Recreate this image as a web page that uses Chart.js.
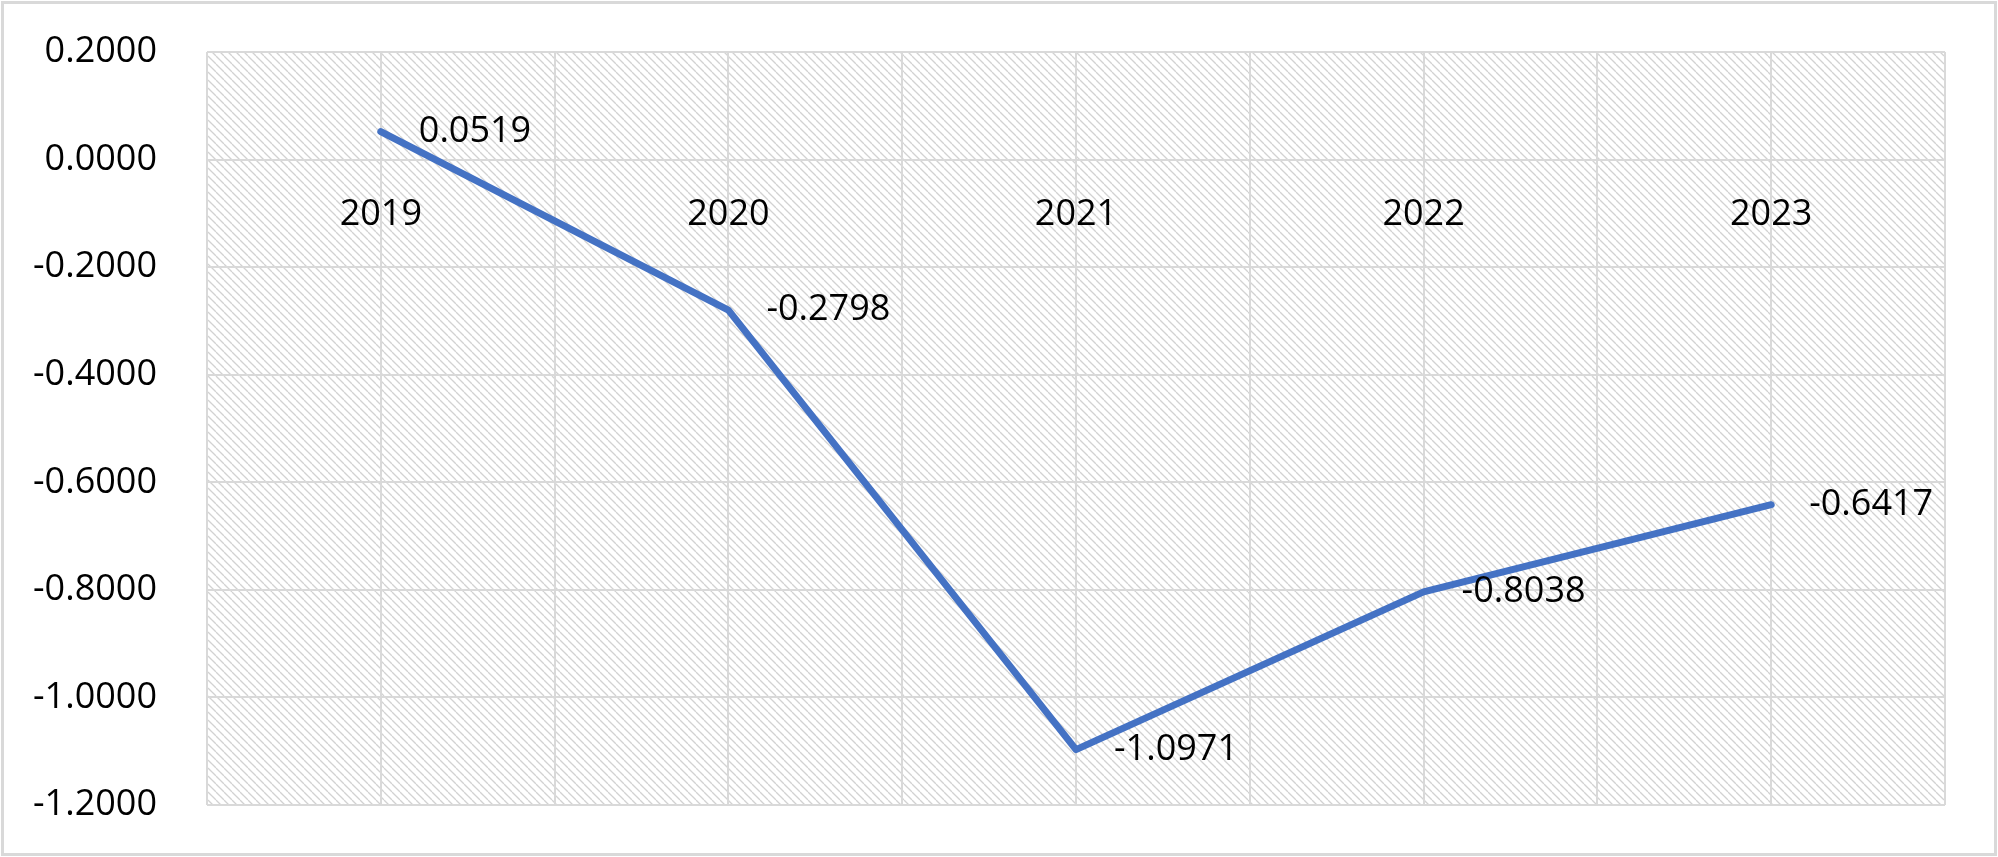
<!DOCTYPE html>
<html>
<head>
<meta charset="utf-8">
<script src="https://cdn.jsdelivr.net/npm/chart.js@4"></script>
<style>
    html, body { margin: 0; padding: 0; background: #ffffff; }
    #wrap { position: relative; width: 1998px; height: 857px; }
</style>
</head>
<body>
<div id="wrap"><canvas id="lineChart" width="1998" height="857"></canvas></div>
<script>
// Chart data
const years = ['2019', '2020', '2021', '2022', '2023'];
const values = [0.0519, -0.2798, -1.0971, -0.8038, -0.6417];
const yTicks = [0.2, 0.0, -0.2, -0.4, -0.6, -0.8, -1.0, -1.2];

const FONT = '"Open Sans", "Liberation Sans", sans-serif';

// Diagonal hatch used as plot background
function makeHatch() {
    const size = 8;
    const tile = document.createElement('canvas');
    tile.width = size;
    tile.height = size;
    const c = tile.getContext('2d');
    c.fillStyle = '#ffffff';
    c.fillRect(0, 0, size, size);
    c.strokeStyle = '#d2d2d2';
    c.lineWidth = 1.3;
    for (let k = -1; k <= 1; k++) {
        c.beginPath();
        c.moveTo(k * size, 0);
        c.lineTo(k * size + size, size);
        c.stroke();
    }
    return tile;
}

const backgroundPlugin = {
    id: 'hatchBackground',
    beforeDraw(chart) {
        const { ctx, chartArea } = chart;
        ctx.save();
        ctx.fillStyle = '#ffffff';
        ctx.fillRect(0, 0, chart.width, chart.height);
        ctx.fillStyle = ctx.createPattern(makeHatch(), 'repeat');
        ctx.fillRect(chartArea.left, chartArea.top, chartArea.right - chartArea.left, chartArea.bottom - chartArea.top);
        // outer frame
        ctx.strokeStyle = '#d9d9d9';
        ctx.lineWidth = 3;
        ctx.strokeRect(2.5, 2.5, chart.width - 5, chart.height - 5);
        ctx.restore();
    }
};

// Value labels to the right of each point
const valueLabelPlugin = {
    id: 'valueLabels',
    afterDatasetsDraw(chart) {
        const { ctx } = chart;
        const meta = chart.getDatasetMeta(0);
        ctx.save();
        ctx.font = '36px ' + FONT;
        ctx.fillStyle = '#000000';
        ctx.textAlign = 'left';
        ctx.textBaseline = 'middle';
        meta.data.forEach((pt, i) => {
            ctx.fillText(values[i].toFixed(4), pt.x + 38, pt.y);
        });
        ctx.restore();
    }
};

const ctx = document.getElementById('lineChart').getContext('2d');
new Chart(ctx, {
    type: 'line',
    data: {
        datasets: [{
            data: values.map((v, i) => ({ x: 2 * i + 1, y: v })),
            borderColor: '#4472C4',
            borderWidth: 7,
            borderJoinStyle: 'round',
            borderCapStyle: 'round',
            pointRadius: 0,
            tension: 0,
            fill: false
        }]
    },
    options: {
        responsive: false,
        animation: false,
        events: [],
        layout: {
            padding: { left: 0, top: 52, right: 53, bottom: 52 }
        },
        plugins: {
            legend: { display: false },
            tooltip: { enabled: false }
        },
        scales: {
            x: {
                type: 'linear',
                position: { y: 0 },
                min: 0,
                max: 10,
                afterFit: (scale) => {
                    scale.height = 0;
                    scale.paddingLeft = 0;
                    scale.paddingRight = 0;
                },
                grid: { color: '#d9d9d9', lineWidth: 2, drawTicks: false },
                border: { display: false },
                ticks: {
                    stepSize: 1,
                    autoSkip: false,
                    maxRotation: 0,
                    padding: 34,
                    color: '#000000',
                    font: { family: FONT, size: 36 },
                    callback: (value) => (value % 2 === 1 ? years[(value - 1) / 2] : '')
                }
            },
            y: {
                type: 'linear',
                min: -1.2,
                max: 0.2,
                afterFit: (scale) => {
                    scale.width = 207;
                    scale.paddingTop = 0;
                    scale.paddingBottom = 0;
                },
                afterBuildTicks: (scale) => {
                    scale.ticks = yTicks.map(v => ({ value: v }));
                },
                grid: { color: '#d9d9d9', lineWidth: 2, drawTicks: false },
                border: { display: false },
                ticks: {
                    padding: 50,
                    color: '#000000',
                    font: { family: FONT, size: 36 },
                    callback: (value) => Number(value).toFixed(4)
                }
            }
        }
    },
    plugins: [backgroundPlugin, valueLabelPlugin]
});
</script>
</body>
</html>
